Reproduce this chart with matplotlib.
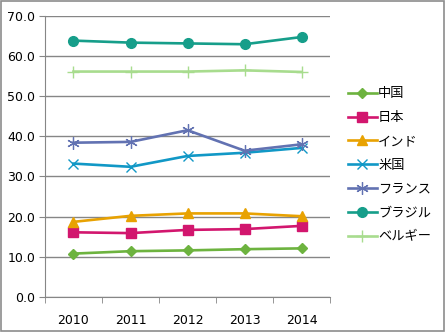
import matplotlib
matplotlib.use("Agg")
import matplotlib.pyplot as plt
from matplotlib.patches import Rectangle

plt.rcParams['font.family'] = ['DejaVu Sans', 'Noto Sans CJK JP']

years = ["2010", "2011", "2012", "2013", "2014"]
china = [10.8, 11.4, 11.6, 11.9, 12.1]
japan = [16.1, 15.9, 16.7, 16.9, 17.7]
india = [18.7, 20.2, 20.8, 20.8, 20.1]
usa = [33.2, 32.4, 35.1, 35.9, 37.1]
france = [38.4, 38.6, 41.5, 36.4, 38.0]
brazil = [63.8, 63.3, 63.1, 62.9, 64.7]
belgium = [56.1, 56.1, 56.1, 56.4, 56.0]
yticks = [0, 10, 20, 30, 40, 50, 60, 70]

series = [
    ("中国", china, "#6db33f", "D", 5.5, 1.0),
    ("日本", japan, "#d2166e", "s", 7, 1.0),
    ("インド", india, "#e8a202", "^", 7, 1.0),
    ("米国", usa, "#1198c6", "x", 7, 1.0),
    ("フランス", france, "#6272b2", (6, 2, 0), 9, 0.9),
    ("ブラジル", brazil, "#169e8a", "o", 7, 1.0),
    ("ベルギー", belgium, "#a8dc8e", "+", 9, 1.0),
]

fig = plt.figure(figsize=(4.45, 3.32), dpi=100)
fig.patches.append(Rectangle((0.003, 0.003), 0.994, 0.994, transform=fig.transFigure,
                             fill=False, edgecolor="#8c8c8c", linewidth=1.2))
ax = fig.add_axes([0.101, 0.1054, 0.641, 0.8473])

x = list(range(len(years)))
for name, vals, col, mk, ms, mew in series:
    ax.plot(x, vals, color=col, linewidth=1.9, marker=mk, markersize=ms,
            markeredgecolor=col, markerfacecolor=col, markeredgewidth=mew, label=name)

ax.set_xlim(-0.5, len(years) - 0.5)
ax.set_ylim(0, 70)
ax.set_yticks(yticks)
ax.set_yticklabels([f"{v:.1f}" for v in yticks], fontsize=9)
ax.set_xticks(x)
ax.set_xticklabels(years, fontsize=9)
ax.set_xticks([i - 0.5 for i in range(len(years) + 1)], minor=True)
ax.tick_params(axis='x', which='major', length=0, pad=12)
ax.tick_params(axis='x', which='minor', length=4, color="#868686")
ax.tick_params(axis='y', length=4, color="#868686", pad=3)
ax.grid(axis='y', color="#868686", linewidth=1.0)
ax.set_axisbelow(True)
for s in ["top", "right"]:
    ax.spines[s].set_visible(False)
for s in ["left", "bottom"]:
    ax.spines[s].set_color("#868686")

leg = ax.legend(loc="center left", bbox_to_anchor=(1.02, 0.468), frameon=False,
                prop={'family': ['Noto Sans CJK JP', 'DejaVu Sans'], 'size': 9.5},
                handlelength=2.2, handletextpad=0.1, labelspacing=0.82)

fig.savefig("out.png", dpi=100)
